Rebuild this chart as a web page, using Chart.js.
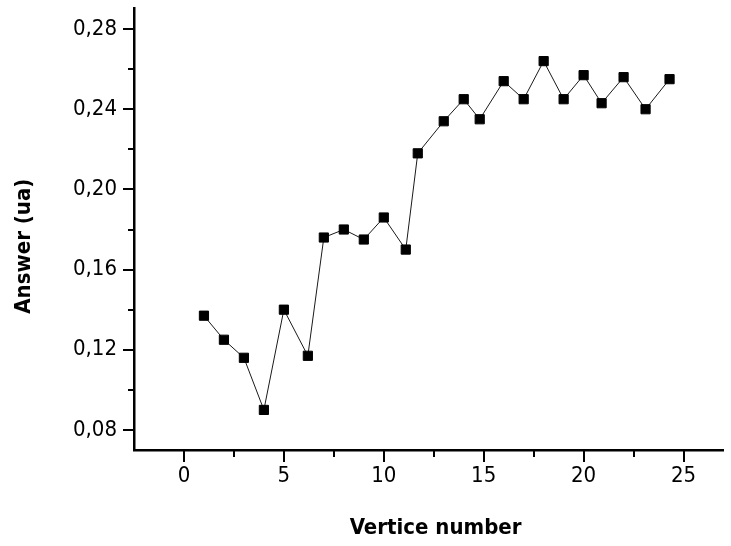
<!DOCTYPE html>
<html>
<head>
<meta charset="utf-8">
<script src="https://cdn.jsdelivr.net/npm/chart.js@4.4.0/dist/chart.umd.min.js"></script>
<style>
  html, body { margin: 0; padding: 0; background: #fff; }
  #wrap { width: 731px; height: 546px; }
</style>
</head>
<body>
<div id="wrap"><canvas id="chart"></canvas></div>
<script>
// vertex index and answer
const vertexNumbers = [1, 2, 3, 4, 5, 6.2, 7, 8, 9, 10, 11.1, 11.7, 13, 14, 14.8, 16, 17, 18, 19, 20, 20.9, 22, 23.1, 24.3];
const answers = [0.137, 0.125, 0.116, 0.090, 0.140, 0.117, 0.176, 0.180, 0.175, 0.186, 0.170, 0.218,
                 0.234, 0.245, 0.235, 0.254, 0.245, 0.264, 0.245, 0.257, 0.243, 0.256, 0.240, 0.255];

const xTicks = [0, 5, 10, 15, 20, 25];
const xMinorTicks = [2.5, 7.5, 12.5, 17.5, 22.5];
const yTicks = [0.08, 0.12, 0.16, 0.20, 0.24, 0.28];
const yMinorTicks = [0.10, 0.14, 0.18, 0.22, 0.26];
const yTickLabels = ['0,08', '0,12', '0,16', '0,20', '0,24', '0,28'];

const labelFont = { family: "'DejaVu Sans Condensed', 'Liberation Sans', sans-serif", size: 22 };
const titleFont = { family: "'DejaVu Sans Condensed', 'Liberation Sans', sans-serif", size: 22, weight: 'bold' };

// tick marks pointing outwards, long for major ticks and short for minor ones
const tickMarks = {
    id: 'tickMarks',
    afterDraw(chart) {
        const ctx = chart.ctx;
        const xs = chart.scales.x, ys = chart.scales.y;
        const area = chart.chartArea;
        ctx.save();
        ctx.strokeStyle = '#000';
        ctx.lineWidth = 2;
        const mark = (vals, len, horiz) => {
            for (const v of vals) {
                ctx.beginPath();
                if (horiz) {
                    const px = Math.round(xs.getPixelForValue(v));
                    ctx.moveTo(px, area.bottom);
                    ctx.lineTo(px, area.bottom + len);
                } else {
                    const py = Math.round(ys.getPixelForValue(v));
                    ctx.moveTo(area.left, py);
                    ctx.lineTo(area.left - len, py);
                }
                ctx.stroke();
            }
        };
        mark(xTicks, 12, true);
        mark(xMinorTicks, 7, true);
        mark(yTicks, 11, false);
        mark(yMinorTicks, 6, false);
        ctx.restore();
    }
};

// no extra room for overhanging tick labels, the plot box is fixed
function fixPadding(s) {
    s.paddingTop = 0;
    s.paddingBottom = 0;
    s.paddingLeft = 0;
    s.paddingRight = 0;
}

new Chart(document.getElementById('chart'), {
    type: 'scatter',
    data: {
        datasets: [{
            data: vertexNumbers.map((x, i) => ({ x: x, y: answers[i] })),
            showLine: true,
            borderColor: '#1a1a1a',
            borderWidth: 1,
            pointStyle: 'rect',
            pointRadius: 6.5,
            pointBorderWidth: 1,
            pointBackgroundColor: '#000',
            pointBorderColor: '#000'
        }]
    },
    options: {
        responsive: true,
        maintainAspectRatio: false,
        animation: false,
        layout: { padding: { top: 8, right: 6, left: 0, bottom: 0 } },
        plugins: {
            legend: { display: false },
            tooltip: { enabled: false }
        },
        scales: {
            x: {
                type: 'linear',
                min: -2.5,
                max: 27,
                afterBuildTicks: s => { s.ticks = xTicks.map(v => ({ value: v })); },
                afterFit: s => { s.height = 96; fixPadding(s); },
                grid: { display: true, drawOnChartArea: false, drawTicks: false },
                border: { display: true, color: '#000', width: 2.5 },
                ticks: { color: '#000', font: labelFont, padding: 13, maxRotation: 0 },
                // leading spaces nudge the title a little to the right, as in the original
                title: { display: true, text: '  Vertice number', color: '#000', font: titleFont, padding: { top: 0, bottom: 5 } }
            },
            y: {
                min: 0.07,
                max: 0.2905,
                afterBuildTicks: s => { s.ticks = yTicks.map(v => ({ value: v })); },
                afterFit: s => { s.width = 134; fixPadding(s); },
                grid: { display: true, drawOnChartArea: false, drawTicks: false },
                border: { display: true, color: '#000', width: 2.5 },
                ticks: {
                    color: '#000',
                    font: labelFont,
                    padding: 17,
                    callback: (v, i) => yTickLabels[i]
                },
                // trailing spaces push the title down the axis a bit
                title: { display: true, text: 'Answer (ua)     ', color: '#000', font: titleFont, padding: { top: 11, bottom: 0 } }
            }
        }
    },
    plugins: [tickMarks]
});
</script>
</body>
</html>
